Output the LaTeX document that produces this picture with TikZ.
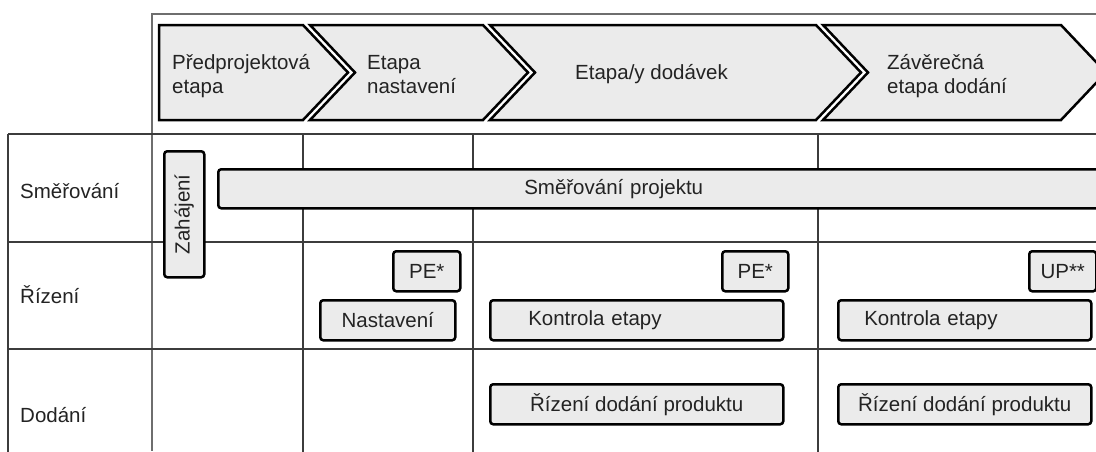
\documentclass[tikz,border=0pt]{standalone}
\usepackage{fontspec}
\setmainfont{Liberation Sans}
\definecolor{boxfill}{RGB}{235,235,235}
\definecolor{gridcol}{RGB}{60,60,60}
\definecolor{framecol}{RGB}{110,110,110}
\definecolor{txt}{RGB}{35,35,35}
\tikzset{
  grid line/.style={draw=gridcol, line width=1.3pt},
  frame line/.style={draw=framecol, line width=1.4pt},
  chev/.style={draw=black, fill=boxfill, line width=2.5pt, line join=miter},
  hdr/.style={font=\fontsize{20.5}{24}\selectfont, text=txt, align=left, anchor=base west, inner sep=0pt},
  rowlab/.style={font=\fontsize{20.5}{24}\selectfont, text=txt, anchor=base west, inner sep=0pt},
  procbox/.style={draw=black, fill=boxfill, line width=2.5pt, rounded corners=3pt,
    font=\fontsize{20.5}{24}\selectfont, text=txt, inner sep=0pt, anchor=north west}
}
\begin{document}
\begin{tikzpicture}[x=1pt,y=-1pt]
\useasboundingbox (0,0) rectangle (1096,451);
\clip (0,0) rectangle (1096,451);
% outer frame
\draw[frame line] (1100,14) -- (152,14) -- (152,451);
% header chevrons
\draw[chev] (159,25) -- (303,25) -- (348,72.5) -- (303,120) -- (159,120) -- cycle;
\draw[chev] (310,25) -- (483,25) -- (528,72.5) -- (483,120) -- (310,120) -- (355,72.5) -- cycle;
\draw[chev] (490,25) -- (816,25) -- (861,72.5) -- (816,120) -- (490,120) -- (535,72.5) -- cycle;
\draw[chev] (823,25) -- (1061,25) -- (1106,72.5) -- (1061,120) -- (823,120) -- (868,72.5) -- cycle;
\node[hdr] (h1) at (172,93) {Předprojektová\\etapa};
\node[hdr] (h2) at (367,93) {Etapa\\nastavení};
\node[hdr] (h3) at (575,79) {Etapa/y dodávek};
\node[hdr] (h4) at (887,93) {Závěrečná\\etapa dodání};
% grid
\draw[grid line] (8,134) -- (1100,134);
\draw[grid line] (8,242) -- (1100,242);
\draw[grid line] (8,349) -- (1100,349);
\draw[grid line] (8,134) -- (8,455);
\draw[grid line] (303,134) -- (303,455);
\draw[grid line] (473,134) -- (473,455);
\draw[grid line] (818,134) -- (818,455);
% row labels
\node[rowlab] (r1) at (20,198) {Směřování};
\node[rowlab] (r2) at (20,303) {Řízení};
\node[rowlab] (r3) at (20,422) {Dodání};
% boxes
\node[procbox, minimum width=40pt, minimum height=126pt] (zah) at (163,150) {};
\node[font=\fontsize{20.5}{24}\selectfont, text=txt, rotate=90, inner sep=0pt] (zahtxt) at (zah.center) {Zahájení};
\node[procbox, minimum height=39pt, text width=567pt, inner xsep=306pt, align=left] (smer) at (217,168) {Směřování projektu};
\node[procbox, minimum width=67pt, minimum height=40pt] (pe1) at (392,250) {PE*};
\node[procbox, minimum width=135pt, minimum height=40pt] (nast) at (319,299) {Nastavení};
\node[procbox, minimum width=66pt, minimum height=40pt] (pe2) at (721,250) {PE*};
\node[procbox, minimum height=40pt, text width=217pt, inner xsep=38pt, align=left] (kon1) at (489,299) {Kontrola etapy};
\node[procbox, minimum width=293pt, minimum height=40pt] (rdp1) at (489,383) {Řízení dodání produktu};
\node[procbox, minimum width=67pt, minimum height=40pt] (up) at (1028,250) {UP**};
\node[procbox, minimum height=40pt, text width=201pt, inner xsep=26pt, align=left] (kon2) at (837,299) {Kontrola etapy};
\node[procbox, minimum width=253pt, minimum height=40pt] (rdp2) at (837,383) {Řízení dodání produktu};
\end{tikzpicture}
\end{document}
